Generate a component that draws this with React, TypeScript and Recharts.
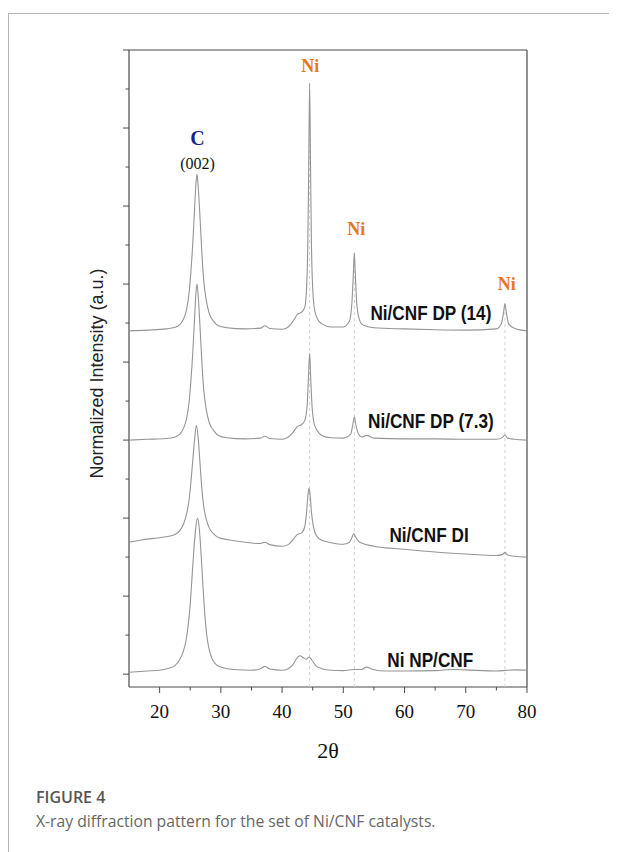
import React from 'react';
import { LineChart, Line, XAxis, YAxis, ReferenceLine, ReferenceDot } from 'recharts';

// 2-theta tick values
const xTicks = [20, 25, 30, 35, 40, 45, 50, 55, 60, 65, 70, 75, 80];
const yTicks = [0, 1, 2, 3, 4, 5, 6, 7, 8, 9, 10, 11, 12, 13, 14, 15, 16];
const yMin = -0.33;

// patterns (normalized intensity, stacked)
const niNpCnf = [
  [15, 0.05], [18, 0.08], [20, 0.1], [21.5, 0.15], [22.5, 0.22], [23.2, 0.35], [23.8, 0.55], [24.3, 0.85],
  [24.7, 1.3], [25.0, 1.8], [25.3, 2.5], [25.6, 3.2], [25.9, 3.75], [26.2, 4.0], [26.5, 3.7], [26.8, 3.0],
  [27.1, 2.2], [27.4, 1.5], [27.7, 1.0], [28.0, 0.7], [28.5, 0.42], [29.2, 0.25], [30, 0.18], [32, 0.12],
  [35, 0.1], [36.5, 0.14], [37.2, 0.2], [38, 0.13], [40, 0.1], [41, 0.14], [41.8, 0.25], [42.4, 0.4],
  [42.9, 0.47], [43.5, 0.42], [44.0, 0.38], [44.4, 0.44], [44.9, 0.35], [45.5, 0.22], [46.5, 0.14],
  [48, 0.1], [50, 0.09], [51.8, 0.12], [53, 0.12], [53.8, 0.18], [54.8, 0.12], [57, 0.08], [60, 0.08],
  [65, 0.09], [68, 0.12], [70, 0.11], [75, 0.08], [78, 0.11], [80, 0.1],
];

const niCnfDi = [
  [15, 3.38], [17, 3.44], [19, 3.48], [21, 3.52], [22.5, 3.58], [23.3, 3.68], [23.9, 3.85], [24.4, 4.1],
  [24.8, 4.45], [25.1, 4.9], [25.4, 5.45], [25.7, 6.0], [26.0, 6.38], [26.3, 6.05], [26.6, 5.4], [26.9, 4.75],
  [27.2, 4.3], [27.6, 3.98], [28.1, 3.75], [28.8, 3.6], [29.6, 3.5], [31, 3.45], [33, 3.4], [35, 3.36],
  [36.5, 3.35], [37.2, 3.38], [38, 3.32], [40, 3.28], [41, 3.32], [41.8, 3.45], [42.5, 3.58], [43.2, 3.62],
  [43.7, 3.78], [44.0, 4.15], [44.2, 4.55], [44.4, 4.77], [44.6, 4.55], [44.8, 4.15], [45.1, 3.8],
  [45.6, 3.55], [46.5, 3.43], [48, 3.37], [50, 3.33], [51, 3.38], [51.4, 3.5], [51.7, 3.6], [52.0, 3.52],
  [52.4, 3.42], [53, 3.36], [55, 3.28], [60, 3.2], [65, 3.13], [70, 3.08], [75, 3.04], [76.0, 3.07],
  [76.4, 3.12], [76.8, 3.06], [78, 3.02], [80, 3.0],
];

const niCnfDp73 = [
  [15, 6.0], [18, 6.02], [21, 6.04], [22.5, 6.08], [23.3, 6.15], [23.9, 6.3], [24.4, 6.55], [24.8, 6.95],
  [25.1, 7.5], [25.4, 8.2], [25.7, 9.1], [25.9, 9.7], [26.1, 10.0], [26.3, 9.7], [26.6, 8.9], [26.9, 8.0],
  [27.2, 7.3], [27.6, 6.8], [28.1, 6.45], [28.8, 6.25], [29.6, 6.12], [31, 6.06], [34, 6.03], [36.5, 6.05],
  [37.2, 6.1], [38, 6.04], [40, 6.02], [41, 6.08], [41.8, 6.2], [42.5, 6.35], [43.2, 6.4], [43.7, 6.5],
  [44.1, 6.9], [44.3, 7.6], [44.5, 8.23], [44.7, 7.5], [44.9, 6.85], [45.2, 6.45], [45.7, 6.25],
  [46.5, 6.12], [48, 6.06], [50, 6.05], [51.2, 6.15], [51.5, 6.35], [51.8, 6.59], [52.1, 6.35],
  [52.5, 6.15], [53, 6.08], [53.8, 6.12], [55, 6.05], [60, 6.03], [65, 6.03], [70, 6.02], [75, 6.02],
  [76.0, 6.07], [76.4, 6.13], [76.8, 6.05], [78, 6.02], [80, 6.0],
];

const niCnfDp14 = [
  [15, 8.8], [18, 8.82], [21, 8.85], [22.5, 8.89], [23.3, 8.96], [23.9, 9.1], [24.4, 9.35], [24.8, 9.75],
  [25.1, 10.3], [25.4, 11.0], [25.7, 11.9], [25.9, 12.5], [26.1, 12.82], [26.3, 12.5], [26.6, 11.7],
  [26.9, 10.8], [27.2, 10.1], [27.6, 9.6], [28.1, 9.25], [28.8, 9.05], [29.6, 8.93], [31, 8.88], [34, 8.85],
  [36.5, 8.87], [37.2, 8.93], [38, 8.86], [40, 8.84], [41, 8.9], [41.8, 9.05], [42.5, 9.22], [43.2, 9.28],
  [43.7, 9.4], [44.0, 9.9], [44.2, 11.0], [44.35, 13.0], [44.5, 15.15], [44.65, 13.0], [44.8, 11.0],
  [45.0, 9.9], [45.3, 9.35], [45.8, 9.1], [46.5, 8.98], [48, 8.9], [50, 8.9], [51.0, 9.05], [51.4, 9.5],
  [51.65, 10.3], [51.8, 10.8], [51.95, 10.3], [52.2, 9.5], [52.6, 9.1], [53.2, 8.95], [55, 8.88],
  [60, 8.85], [65, 8.83], [70, 8.82], [75, 8.85], [75.8, 8.98], [76.2, 9.3], [76.4, 9.5], [76.6, 9.3],
  [77, 8.98], [78, 8.86], [80, 8.8],
];

const seriesNames = ['Ni NP/CNF', 'Ni/CNF DI', 'Ni/CNF DP (7.3)', 'Ni/CNF DP (14)'];
const seriesData = [niNpCnf, niCnfDi, niCnfDp73, niCnfDp14];
const seriesLabelAt = [[64.2, 0.36], [64.0, 3.56], [64.3, 6.49], [64.3, 9.25]];

// Ni reflections: position and top of the dashed guide
const niPeaks = [44.5, 51.8, 76.4];
const niPeakTops = [15.15, 10.8, 9.5];
const niLabelAt = [[44.6, 15.6], [52.1, 11.4], [76.7, 10.0]];

const toPoints = (rows: number[][]) => rows.map(([x, y]) => ({ x, y }));

const serif = '"Liberation Serif", "Times New Roman", serif';
const sans = '"Liberation Sans", Arial, sans-serif';
const curveColor = '#959595';
const axisColor = '#4a4a4a';

const YTick = (props: any) => {
  const { x, y, payload } = props;
  const len = payload.value % 2 === 0 ? 6 : 3.5;
  return <line x1={x} x2={x - len} y1={y} y2={y} stroke={axisColor} strokeWidth={1} />;
};

const XTick = (props: any) => {
  const { x, y, payload } = props;
  const major = payload.value % 10 === 0;
  return (
    <g>
      <line x1={x} x2={x} y1={y} y2={y + (major ? 6 : 3.5)} stroke={axisColor} strokeWidth={1} />
      {major && (
        <text x={x} y={y + 31} textAnchor="middle" fontFamily={serif} fontSize={19} fill="#111">
          {payload.value}
        </text>
      )}
    </g>
  );
};

const textDot = (text: string, style: any, sx = 1) => (p: any) => (
  <text
    transform={`translate(${p.cx} ${p.cy}) scale(${sx} 1)`}
    textAnchor="middle"
    dominantBaseline="central"
    {...style}
  >
    {text}
  </text>
);

export default function App() {
  return (
    <div
      style={{
        position: 'relative',
        marginTop: 5,
        width: 609,
        height: 839,
        borderTop: '1px solid #b5b5b5',
        borderLeft: '1px solid #b5b5b5',
      }}
    >
      <div style={{ position: 'absolute', left: 0, top: 0 }}>
        <LineChart width={600} height={760} margin={{ top: 36, right: 82, bottom: 7, left: 119 }}>
          <XAxis
            dataKey="x"
            type="number"
            domain={[15, 80]}
            ticks={xTicks}
            interval={0}
            allowDataOverflow
            tickSize={0}
            tickMargin={0}
            tickLine={false}
            axisLine={false}
            tick={<XTick />}
            height={80}
            label={({ viewBox }: any) => (
              <text x={viewBox.x + viewBox.width / 2} y={viewBox.y + 71} textAnchor="middle" fontFamily={serif} fontSize={22} fill="#111">
                2θ
              </text>
            )}
          />
          <YAxis
            type="number"
            domain={[yMin, 16]}
            ticks={yTicks}
            interval={0}
            allowDataOverflow
            width={1}
            tickSize={0}
            tickMargin={0}
            tickLine={false}
            axisLine={false}
            tick={<YTick />}
            label={({ viewBox }: any) => {
              const cx = viewBox.x - 31;
              const cy = viewBox.y + viewBox.height / 2 + 5;
              return (
                <text x={cx} y={cy} transform={`rotate(-90 ${cx} ${cy})`} textAnchor="middle" dominantBaseline="central" fontFamily={sans} fontSize={18} fill="#222">
                  Normalized Intensity (a.u.)
                </text>
              );
            }}
          />

          {/* plot frame */}
          <ReferenceLine x={15} stroke={axisColor} strokeWidth={1.2} ifOverflow="visible" />
          <ReferenceLine x={80} stroke={axisColor} strokeWidth={1.2} ifOverflow="visible" />
          <ReferenceLine y={yMin} stroke={axisColor} strokeWidth={1.2} ifOverflow="visible" />
          <ReferenceLine y={16} stroke={axisColor} strokeWidth={1.2} ifOverflow="visible" />

          {niPeaks.map((px, i) => (
            <ReferenceLine
              key={`g${i}`}
              segment={[{ x: px, y: yMin }, { x: px, y: niPeakTops[i] }]}
              stroke="#d2d2d2"
              strokeDasharray="3 3"
              strokeWidth={1}
            />
          ))}

          {seriesData.map((rows, i) => (
            <Line
              key={seriesNames[i]}
              data={toPoints(rows)}
              dataKey="y"
              name={seriesNames[i]}
              type="monotone"
              stroke={curveColor}
              strokeWidth={1.1}
              dot={false}
              activeDot={false}
              isAnimationActive={false}
            />
          ))}

          {seriesNames.map((name, i) => (
            <ReferenceDot
              key={`s${i}`}
              x={seriesLabelAt[i][0]}
              y={seriesLabelAt[i][1]}
              r={1}
              shape={textDot(name, { fontFamily: sans, fontWeight: 700, fontSize: 20, fill: '#111' }, 0.86)}
            />
          ))}

          {niLabelAt.map(([lx, ly], i) => (
            <ReferenceDot
              key={`n${i}`}
              x={lx}
              y={ly}
              r={1}
              shape={textDot('Ni', { fontFamily: serif, fontWeight: 700, fontSize: 18, fill: '#e8761e' })}
            />
          ))}
          <ReferenceDot x={26.2} y={13.74} r={1} shape={textDot('C', { fontFamily: serif, fontWeight: 700, fontSize: 20, fill: '#1c1f8a' })} />
          <ReferenceDot x={26.2} y={13.1} r={1} shape={textDot('(002)', { fontFamily: serif, fontSize: 16, fill: '#111' })} />
        </LineChart>
      </div>
      <div style={{ position: 'absolute', left: 27, top: 773, fontFamily: '"Open Sans", sans-serif', fontWeight: 600, fontSize: 16, color: '#555', lineHeight: '20px' }}>
        FIGURE 4
      </div>
      <div style={{ position: 'absolute', left: 27, top: 797, fontFamily: '"Open Sans", sans-serif', fontSize: 15.7, color: '#666', lineHeight: '20px' }}>
        X-ray diffraction pattern for the set of Ni/CNF catalysts.
      </div>
    </div>
  );
}
